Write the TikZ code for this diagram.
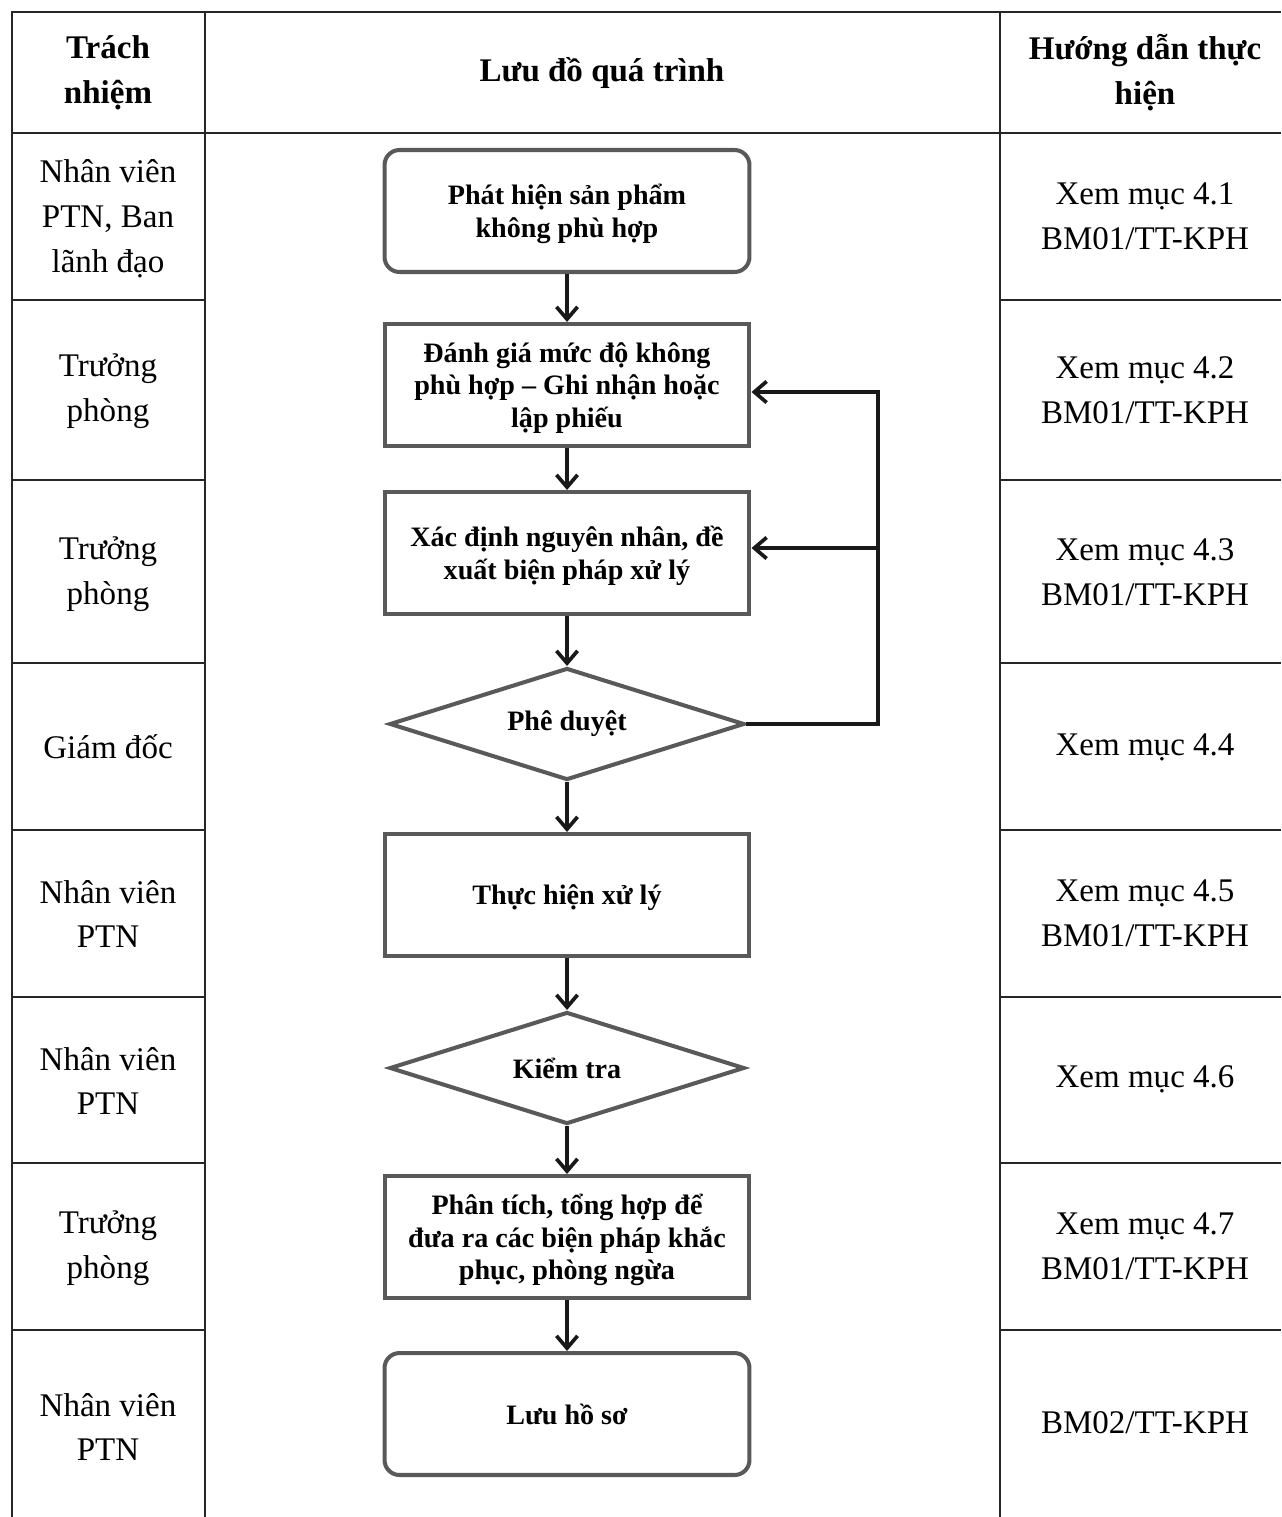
\documentclass[tikz,border=0pt]{standalone}
\usepackage{fontspec}
\setmainfont{Liberation Serif}
\usetikzlibrary{shapes.geometric,arrows.meta}

\begin{document}
\begin{tikzpicture}[x=0.02cm,y=-0.02cm,
    grid/.style={line width=1.5pt,black!85},
    cell/.style={align=center,font=\fontsize{18.8}{25.6}\selectfont},
    head/.style={align=center,font=\fontsize{18.8}{25.6}\selectfont\bfseries},
    stepbox/.style={draw=black!65,line width=2.3pt,minimum width=7.3cm,minimum height=2.44cm,
        align=center,text depth=-1pt,font=\fontsize{16}{18.5}\selectfont\bfseries},
    endbox/.style={stepbox,rounded corners=0.3cm},
    decide/.style={diamond,aspect=3.17,draw=black!65,line width=2.3pt,minimum width=7.1cm,
        minimum height=2.24cm,inner sep=0pt,font=\fontsize{16}{18.5}\selectfont\bfseries},
    flow/.style={line width=2.1pt,black!90,-{Straight Barb[length=7pt,width=12pt]}}]

    \useasboundingbox (0,0) rectangle (1281,1517);

    % Table frame and columns
    \draw[grid] (1281,12) -- (12,12) -- (12,1517);
    \draw[grid] (205,12) -- (205,1517);
    \draw[grid] (1000,12) -- (1000,1517);
    \draw[grid] (12,133) -- (1281,133);

    % Row lines in the side columns
    \foreach \y in {300,480,663,830,997,1163,1330}
    {
        \draw[grid] (12,\y) -- (205,\y);
        \draw[grid] (1000,\y) -- (1281,\y);
    }

    % Headers
    \node[head] (hwho) at (108,73) {Trách\\nhiệm};
    \node[head] (hchart) at (602,73) {Lưu đồ quá trình};
    \node[head] (hguide) at (1145,73) {Hướng dẫn thực\\hiện};

    % Responsibility column
    \foreach \n/\y/\who in {1/219/{Nhân viên\\PTN, Ban\\lãnh đạo}, 2/391/{Trưởng\\phòng},
        3/574/{Trưởng\\phòng}, 4/747/{Giám đốc}, 5/914/{Nhân viên\\PTN},
        6/1081/{Nhân viên\\PTN}, 7/1248/{Trưởng\\phòng}, 8/1427/{Nhân viên\\PTN}}
    {
        \node[cell] (who\n) at (108,\y) {\who};
    }

    % Guide column
    \foreach \n/\y/\doc in {1/216/{Xem mục 4.1\\BM01/TT-KPH}, 2/390/{Xem mục 4.2\\BM01/TT-KPH},
        3/572/{Xem mục 4.3\\BM01/TT-KPH}, 4/747/{Xem mục 4.4}, 5/913/{Xem mục 4.5\\BM01/TT-KPH},
        6/1079/{Xem mục 4.6}, 7/1246/{Xem mục 4.7\\BM01/TT-KPH}, 8/1423/{BM02/TT-KPH}}
    {
        \node[cell] (guide\n) at (1145,\y) {\doc};
    }

    % Process steps
    \node[endbox] (detect) at (567,211) {Phát hiện sản phẩm\\không phù hợp};
    \node[stepbox] (assess) at (567,385) {Đánh giá mức độ không\\phù hợp – Ghi nhận hoặc\\lập phiếu};
    \node[stepbox] (cause) at (567,553) {Xác định nguyên nhân, đề\\xuất biện pháp xử lý};
    \node[decide] (approve) at (567,724) {Phê duyệt};
    \node[stepbox] (treat) at (567,895) {Thực hiện xử lý};
    \node[decide] (check) at (567,1068) {Kiểm tra};
    \node[stepbox] (analyse) at (567,1237) {Phân tích, tổng hợp để\\đưa ra các biện pháp khắc\\phục, phòng ngừa};
    \node[endbox] (archive) at (567,1414) {Lưu hồ sơ};

    % Main flow
    \foreach \a/\b in {detect/assess, assess/cause, cause/approve, approve/treat,
        treat/check, check/analyse, analyse/archive}
    {
        \draw[flow] (\a) -- (\b);
    }

    % Return path from approval
    \coordinate (back) at (878,724);
    \coordinate (redo) at ([yshift=-0.14cm]assess.east);
    \coordinate (rethink) at ([yshift=0.1cm]cause.east);
    \draw[flow] (approve.east) -- (back) |- (redo);
    \draw[flow] (back |- rethink) -- (rethink);

\end{tikzpicture}
\end{document}
